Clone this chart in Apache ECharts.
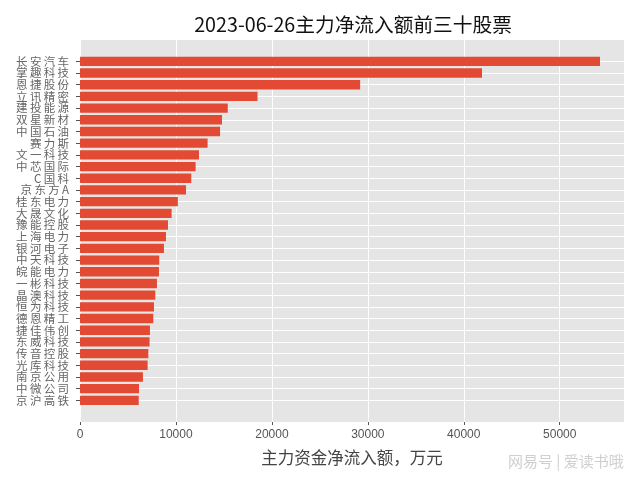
<!DOCTYPE html>
<html>
<head>
<meta charset="utf-8">
<style>
    html, body { margin: 0; padding: 0; background: #fff; }
    #main { width: 640px; height: 480px; }
</style>
<script src="https://cdn.jsdelivr.net/npm/echarts@6/dist/echarts.min.js"></script>
</head>
<body>
<div id="main"></div>
<script>
const titleText = '2023-06-26主力净流入额前三十股票'
const axisName = '主力资金净流入额，万元'
const watermark = '网易号 | 爱读书哦'
const stocks = ['长安汽车', '掌趣科技', '恩捷股份', '立讯精密', '建投能源', '双星新材', '中国石油', '赛力斯', '文一科技', '中芯国际',
    'C国科', '京东方A', '桂东电力', '大晟文化', '豫能控股', '上海电力', '银河电子', '中天科技', '皖能电力', '一彬科技',
    '晶澳科技', '恒为科技', '德恩精工', '捷佳伟创', '东威科技', '传音控股', '光库科技', '南京公用', '中微公司', '京沪高铁']
const inflow = [54200, 41900, 29200, 18500, 15400, 14800, 14600, 13300, 12400, 12050,
    11600, 11050, 10200, 9550, 9170, 8960, 8750, 8260, 8230, 8020,
    7850, 7710, 7640, 7290, 7250, 7120, 7050, 6560, 6150, 6120]
const xTicks = [0, 10000, 20000, 30000, 40000, 50000]
const xMax = 56700

const chart = echarts.init(document.getElementById('main'), null, { renderer: 'canvas' })

const xScale = { type: 'value', min: 0, max: xMax }

chart.setOption({
    animation: false,
    title: [
        {
            text: titleText,
            left: 348,
            top: 10,
            textAlign: 'center',
            textStyle: { fontFamily: 'Noto Sans CJK SC', fontSize: 19.7, fontWeight: 'normal', color: '#111' },
        },
        {
            text: watermark,
            left: 503,
            top: 449,
            textStyle: { fontFamily: 'Noto Sans CJK SC', fontSize: 15, fontWeight: 'normal', color: '#cfcfcf' },
        },
    ],
    grid: [
        // frame with the grey panel, value axis and vertical lines
        { left: 80, top: 40, width: 544, height: 382, show: true, backgroundColor: '#e5e5e5', borderWidth: 0 },
        // bars sit in a smaller grid so the panel keeps its margin above and below
        { left: 80, top: 55.5, width: 544, height: 350.7 },
    ],
    xAxis: [
        {
            ...xScale,
            gridIndex: 0,
            name: axisName,
            nameLocation: 'middle',
            nameGap: 27,
            nameTextStyle: { fontFamily: 'Noto Sans CJK SC', fontSize: 16.5, color: '#444' },
            axisLine: { show: false },
            axisTick: { show: true, length: 3, customValues: xTicks, lineStyle: { color: '#555' } },
            axisLabel: {
                customValues: xTicks,
                margin: 7,
                fontFamily: 'Liberation Sans',
                fontSize: 12,
                color: '#555',
                formatter: (value) => String(value),
            },
            splitLine: { show: true, lineStyle: { color: '#fff', width: 1 } },
        },
        {
            ...xScale,
            gridIndex: 1,
            show: false,
            splitLine: { show: false },
        },
    ],
    yAxis: [
        { type: 'value', gridIndex: 0, show: false, splitLine: { show: false } },
        {
            type: 'category',
            gridIndex: 1,
            inverse: true,
            data: stocks,
            axisLine: { show: false },
            axisTick: { show: true, length: 4, alignWithLabel: true, lineStyle: { color: '#555' } },
            axisLabel: {
                interval: 0,
                margin: 11,
                fontFamily: 'Noto Sans CJK SC',
                fontSize: 11.5,
                lineHeight: 12,
                color: '#666',
                // the original labels are set wide, a thin space between glyphs gets that pitch
                formatter: (name) => name.split('').join('\u2009'),
            },
            splitLine: { show: true, alignWithLabel: true, interval: 0, lineStyle: { color: '#fff', width: 1 } },
        },
    ],
    series: [
        {
            type: 'bar',
            xAxisIndex: 1,
            yAxisIndex: 1,
            data: inflow,
            barCategoryGap: '20%',
            itemStyle: { color: '#e24a33' },
        },
    ],
})
</script>
</body>
</html>
